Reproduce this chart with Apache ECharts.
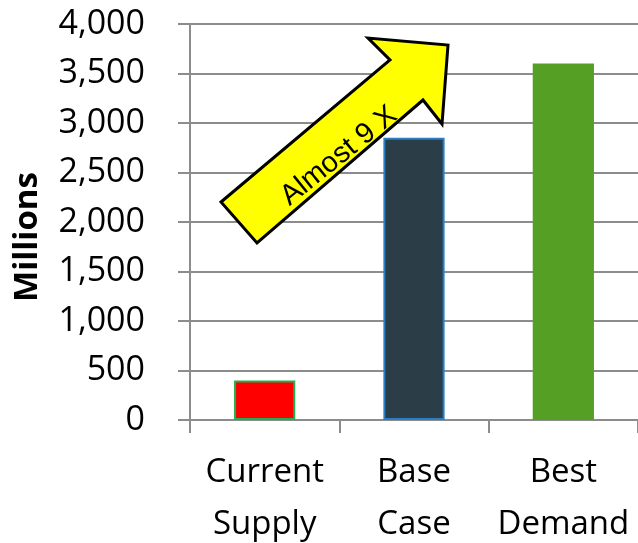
<!DOCTYPE html>
<html>
<head>
<meta charset="utf-8">
<style>
  html, body { margin: 0; padding: 0; background: #fff; }
  #chart { width: 638px; height: 543px; }
</style>
<script src="https://cdn.jsdelivr.net/npm/echarts@6/dist/echarts.min.js"></script>
</head>
<body>
<div id="chart"></div>
<script>
// Categories and values (millions)
const categories = ['Current\nSupply', 'Base\nCase', 'Best\nDemand'];
const values = [400, 2850, 3600];
const barColors = ['#ff0000', '#2b3d47', '#55a024'];
const barBorders = ['#1fb050', '#2a7fc4', '#55a024'];
const yTicks = [0, 500, 1000, 1500, 2000, 2500, 3000, 3500, 4000];
const yTitle = 'Millions';
const annotationText = 'Almost 9 X';

const chart = echarts.init(document.getElementById('chart'));
const gridColor = '#8c8c8c';
const labelFont = '"Open Sans", "Noto Sans", sans-serif';

chart.setOption({
  animation: false,
  grid: { left: 190, right: 0, top: 24, bottom: 123, outerBoundsMode: 'none', containLabel: false },
  xAxis: {
    type: 'category',
    data: categories,
    axisLine: { lineStyle: { color: gridColor, width: 2 } },
    axisTick: { show: true, length: 13, lineStyle: { color: gridColor, width: 2 } },
    axisLabel: {
      color: '#000', fontSize: 33, fontFamily: labelFont,
      lineHeight: 52, margin: 27, interval: 0
    }
  },
  yAxis: {
    type: 'value',
    min: yTicks[0],
    max: yTicks[yTicks.length - 1],
    interval: 500,
    axisLine: { show: true, lineStyle: { color: gridColor, width: 2 } },
    axisTick: { show: true, length: 12, inside: false, lineStyle: { color: gridColor, width: 2 } },
    splitLine: { lineStyle: { color: gridColor, width: 2 } },
    axisLabel: {
      color: '#000', fontSize: 34, fontFamily: labelFont, margin: 45,
      formatter: v => v.toLocaleString('en-US')
    }
  },
  series: [{
    type: 'bar',
    barWidth: '41%',
    data: values.map((v, i) => ({
      value: v,
      itemStyle: { color: barColors[i], borderColor: barBorders[i], borderWidth: 2 }
    }))
  }],
  graphic: [
    // Rotated y-axis title
    {
      type: 'text',
      x: 28,
      y: 237,
      rotation: Math.PI / 2,
      style: {
        text: yTitle,
        fill: '#000',
        font: 'bold 33px "Open Sans", "Noto Sans", sans-serif',
        textAlign: 'center',
        textVerticalAlign: 'middle'
      }
    },
    // Growth arrow annotation
    {
      type: 'polygon',
      z: 100,
      shape: {
        points: [[221, 202], [390, 60], [368, 38], [448, 45], [442, 124], [423, 100], [257, 243]]
      },
      style: { fill: '#ffff00', stroke: '#000', lineWidth: 3, lineJoin: 'miter' }
    },
    {
      type: 'text',
      z: 101,
      x: 339,
      y: 156,
      rotation: 39 * Math.PI / 180,
      style: {
        text: annotationText,
        fill: '#000',
        font: '29px "Liberation Sans", Arial, sans-serif',
        textAlign: 'center',
        textVerticalAlign: 'middle'
      }
    }
  ]
});
</script>
</body>
</html>
